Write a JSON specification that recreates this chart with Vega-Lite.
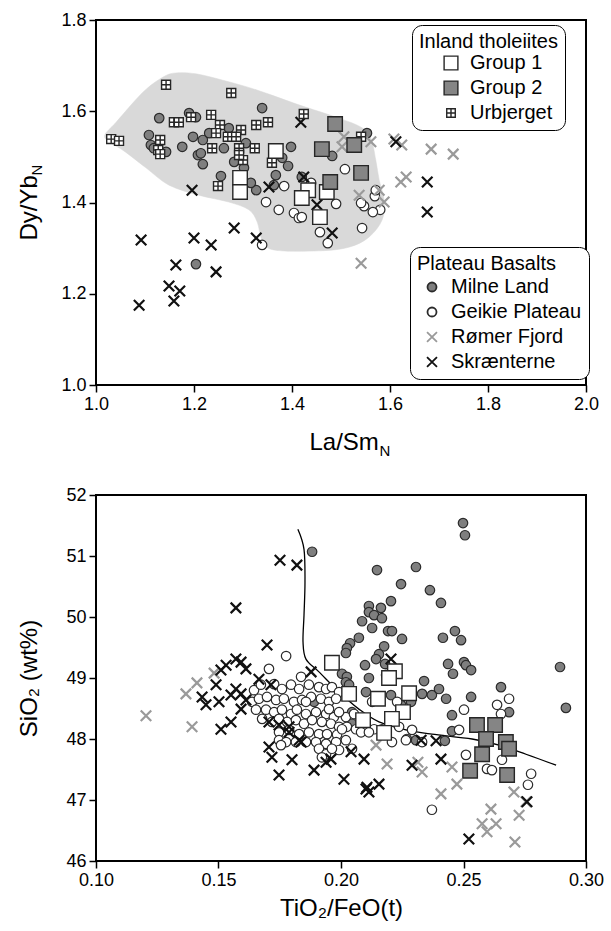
{
"$schema": "https://vega.github.io/schema/vega-lite/v6.json",
"background": "white",
"padding": {"left": 16, "top": 10, "right": 5, "bottom": 5},
"spacing": 26,
"datasets": {
"hull": [
{"i":0,"x":1.210,"y":1.416},{"i":1,"x":1.271,"y":1.401},{"i":2,"x":1.312,"y":1.384},{"i":3,"x":1.329,"y":1.357},{"i":4,"x":1.339,"y":1.318},{"i":5,"x":1.363,"y":1.296},{"i":6,"x":1.455,"y":1.294},{"i":7,"x":1.516,"y":1.302},{"i":8,"x":1.557,"y":1.324},{"i":9,"x":1.584,"y":1.362},{"i":10,"x":1.588,"y":1.405},{"i":11,"x":1.578,"y":1.449},{"i":12,"x":1.571,"y":1.493},{"i":13,"x":1.561,"y":1.541},{"i":14,"x":1.541,"y":1.565},{"i":15,"x":1.490,"y":1.587},{"i":16,"x":1.414,"y":1.614},{"i":17,"x":1.327,"y":1.647},{"i":18,"x":1.259,"y":1.668},{"i":19,"x":1.204,"y":1.682},{"i":20,"x":1.163,"y":1.684},{"i":21,"x":1.137,"y":1.675},{"i":22,"x":1.096,"y":1.642},{"i":23,"x":1.041,"y":1.576},{"i":24,"x":1.018,"y":1.548},{"i":25,"x":1.027,"y":1.533},{"i":26,"x":1.057,"y":1.513},{"i":27,"x":1.102,"y":1.476},{"i":28,"x":1.149,"y":1.438}
],
"topCircles": [
{"x":1.129,"y":1.585,"group":"Milne Land"},{"x":1.190,"y":1.596,"group":"Milne Land"},{"x":1.204,"y":1.587,"group":"Milne Land"},{"x":1.108,"y":1.548,"group":"Milne Land"},{"x":1.112,"y":1.526,"group":"Milne Land"},{"x":1.118,"y":1.519,"group":"Milne Land"},{"x":1.143,"y":1.511,"group":"Milne Land"},{"x":1.176,"y":1.522,"group":"Milne Land"},{"x":1.198,"y":1.544,"group":"Milne Land"},{"x":1.218,"y":1.537,"group":"Milne Land"},{"x":1.208,"y":1.504,"group":"Milne Land"},{"x":1.214,"y":1.508,"group":"Milne Land"},{"x":1.218,"y":1.484,"group":"Milne Land"},{"x":1.231,"y":1.552,"group":"Milne Land"},{"x":1.261,"y":1.519,"group":"Milne Land"},{"x":1.271,"y":1.563,"group":"Milne Land"},{"x":1.282,"y":1.489,"group":"Milne Land"},{"x":1.306,"y":1.530,"group":"Milne Land"},{"x":1.255,"y":1.458,"group":"Milne Land"},{"x":1.302,"y":1.476,"group":"Milne Land"},{"x":1.339,"y":1.607,"group":"Milne Land"},{"x":1.398,"y":1.522,"group":"Milne Land"},{"x":1.392,"y":1.480,"group":"Milne Land"},{"x":1.367,"y":1.460,"group":"Milne Land"},{"x":1.482,"y":1.502,"group":"Milne Land"},{"x":1.553,"y":1.552,"group":"Milne Land"},{"x":1.420,"y":1.456,"group":"Milne Land"},{"x":1.327,"y":1.427,"group":"Milne Land"},{"x":1.316,"y":1.443,"group":"Milne Land"},{"x":1.380,"y":1.498,"group":"Milne Land"},{"x":1.204,"y":1.265,"group":"Milne Land"},{"x":1.363,"y":1.438,"group":"Milne Land"},
{"x":1.347,"y":1.401,"group":"Geikie Plateau"},{"x":1.373,"y":1.384,"group":"Geikie Plateau"},{"x":1.404,"y":1.377,"group":"Geikie Plateau"},{"x":1.414,"y":1.366,"group":"Geikie Plateau"},{"x":1.439,"y":1.443,"group":"Geikie Plateau"},{"x":1.508,"y":1.473,"group":"Geikie Plateau"},{"x":1.384,"y":1.436,"group":"Geikie Plateau"},{"x":1.490,"y":1.397,"group":"Geikie Plateau"},{"x":1.569,"y":1.414,"group":"Geikie Plateau"},{"x":1.547,"y":1.392,"group":"Geikie Plateau"},{"x":1.571,"y":1.427,"group":"Geikie Plateau"},{"x":1.580,"y":1.384,"group":"Geikie Plateau"},{"x":1.565,"y":1.379,"group":"Geikie Plateau"},{"x":1.541,"y":1.399,"group":"Geikie Plateau"},{"x":1.543,"y":1.344,"group":"Geikie Plateau"},{"x":1.457,"y":1.335,"group":"Geikie Plateau"},{"x":1.473,"y":1.311,"group":"Geikie Plateau"},{"x":1.420,"y":1.368,"group":"Geikie Plateau"},{"x":1.339,"y":1.307,"group":"Geikie Plateau"}
],
"topCrosses": [
{"x":1.506,"y":1.544,"group":"Rømer Fjord"},{"x":1.502,"y":1.522,"group":"Rømer Fjord"},{"x":1.561,"y":1.533,"group":"Rømer Fjord"},{"x":1.608,"y":1.539,"group":"Rømer Fjord"},{"x":1.624,"y":1.526,"group":"Rømer Fjord"},{"x":1.684,"y":1.517,"group":"Rømer Fjord"},{"x":1.729,"y":1.506,"group":"Rømer Fjord"},{"x":1.622,"y":1.445,"group":"Rømer Fjord"},{"x":1.633,"y":1.456,"group":"Rømer Fjord"},{"x":1.537,"y":1.416,"group":"Rømer Fjord"},{"x":1.578,"y":1.427,"group":"Rømer Fjord"},{"x":1.588,"y":1.401,"group":"Rømer Fjord"},{"x":1.541,"y":1.267,"group":"Rømer Fjord"},
{"x":1.092,"y":1.318,"group":"Skrænterne"},{"x":1.200,"y":1.322,"group":"Skrænterne"},{"x":1.235,"y":1.307,"group":"Skrænterne"},{"x":1.282,"y":1.344,"group":"Skrænterne"},{"x":1.327,"y":1.322,"group":"Skrænterne"},{"x":1.163,"y":1.263,"group":"Skrænterne"},{"x":1.245,"y":1.248,"group":"Skrænterne"},{"x":1.149,"y":1.217,"group":"Skrænterne"},{"x":1.171,"y":1.206,"group":"Skrænterne"},{"x":1.159,"y":1.184,"group":"Skrænterne"},{"x":1.088,"y":1.175,"group":"Skrænterne"},{"x":1.196,"y":1.427,"group":"Skrænterne"},{"x":1.418,"y":1.576,"group":"Skrænterne"},{"x":1.353,"y":1.434,"group":"Skrænterne"},{"x":1.451,"y":1.395,"group":"Skrænterne"},{"x":1.424,"y":1.456,"group":"Skrænterne"},{"x":1.612,"y":1.533,"group":"Skrænterne"},{"x":1.676,"y":1.445,"group":"Skrænterne"},{"x":1.676,"y":1.379,"group":"Skrænterne"},{"x":1.482,"y":1.333,"group":"Skrænterne"}
],
"topInland": [
{"x":1.143,"y":1.658,"group":"Urbjerget"},{"x":1.276,"y":1.640,"group":"Urbjerget"},{"x":1.031,"y":1.539,"group":"Urbjerget"},{"x":1.047,"y":1.535,"group":"Urbjerget"},{"x":1.159,"y":1.576,"group":"Urbjerget"},{"x":1.169,"y":1.576,"group":"Urbjerget"},{"x":1.194,"y":1.587,"group":"Urbjerget"},{"x":1.235,"y":1.592,"group":"Urbjerget"},{"x":1.131,"y":1.537,"group":"Urbjerget"},{"x":1.127,"y":1.515,"group":"Urbjerget"},{"x":1.131,"y":1.506,"group":"Urbjerget"},{"x":1.253,"y":1.570,"group":"Urbjerget"},{"x":1.245,"y":1.552,"group":"Urbjerget"},{"x":1.269,"y":1.544,"group":"Urbjerget"},{"x":1.296,"y":1.559,"group":"Urbjerget"},{"x":1.286,"y":1.544,"group":"Urbjerget"},{"x":1.237,"y":1.519,"group":"Urbjerget"},{"x":1.292,"y":1.519,"group":"Urbjerget"},{"x":1.300,"y":1.493,"group":"Urbjerget"},{"x":1.292,"y":1.504,"group":"Urbjerget"},{"x":1.249,"y":1.436,"group":"Urbjerget"},{"x":1.327,"y":1.570,"group":"Urbjerget"},{"x":1.424,"y":1.594,"group":"Urbjerget"},{"x":1.351,"y":1.576,"group":"Urbjerget"},{"x":1.324,"y":1.519,"group":"Urbjerget"},{"x":1.359,"y":1.487,"group":"Urbjerget"},{"x":1.541,"y":1.544,"group":"Urbjerget"},
{"x":1.367,"y":1.513,"group":"Group 1"},{"x":1.433,"y":1.427,"group":"Group 1"},{"x":1.471,"y":1.423,"group":"Group 1"},{"x":1.420,"y":1.410,"group":"Group 1"},{"x":1.294,"y":1.454,"group":"Group 1"},{"x":1.294,"y":1.423,"group":"Group 1"},{"x":1.457,"y":1.368,"group":"Group 1"},
{"x":1.488,"y":1.572,"group":"Group 2"},{"x":1.461,"y":1.517,"group":"Group 2"},{"x":1.527,"y":1.526,"group":"Group 2"},{"x":1.541,"y":1.465,"group":"Group 2"},{"x":1.478,"y":1.445,"group":"Group 2"}
],
"curve": [
{"i":0,"x":0.1824,"y":51.44},{"i":1,"x":0.1849,"y":51.11},{"i":2,"x":0.1853,"y":50.57},{"i":3,"x":0.1849,"y":50.03},{"i":4,"x":0.1845,"y":49.59},{"i":5,"x":0.1857,"y":49.31},{"i":6,"x":0.1910,"y":49.10},{"i":7,"x":0.1992,"y":48.77},{"i":8,"x":0.2073,"y":48.49},{"i":9,"x":0.2155,"y":48.28},{"i":10,"x":0.2265,"y":48.15},{"i":11,"x":0.2371,"y":48.08},{"i":12,"x":0.2535,"y":48.00},{"i":13,"x":0.2645,"y":47.90},{"i":14,"x":0.2755,"y":47.75},{"i":15,"x":0.2878,"y":47.57}
],
"botCircles": [
{"x":0.1882,"y":51.07,"group":"Milne Land"},{"x":0.2498,"y":51.54,"group":"Milne Land"},{"x":0.2506,"y":51.34,"group":"Milne Land"},{"x":0.2147,"y":50.77,"group":"Milne Land"},{"x":0.2306,"y":50.82,"group":"Milne Land"},{"x":0.2245,"y":50.54,"group":"Milne Land"},{"x":0.2363,"y":50.44,"group":"Milne Land"},{"x":0.2408,"y":50.23,"group":"Milne Land"},{"x":0.2204,"y":50.26,"group":"Milne Land"},{"x":0.2114,"y":50.18,"group":"Milne Land"},{"x":0.2163,"y":50.15,"group":"Milne Land"},{"x":0.2114,"y":50.08,"group":"Milne Land"},{"x":0.2135,"y":50.03,"group":"Milne Land"},{"x":0.2167,"y":49.98,"group":"Milne Land"},{"x":0.2086,"y":49.93,"group":"Milne Land"},{"x":0.2127,"y":49.82,"group":"Milne Land"},{"x":0.2192,"y":49.77,"group":"Milne Land"},{"x":0.2208,"y":49.77,"group":"Milne Land"},{"x":0.2249,"y":49.64,"group":"Milne Land"},{"x":0.2416,"y":49.66,"group":"Milne Land"},{"x":0.2465,"y":49.77,"group":"Milne Land"},{"x":0.2490,"y":49.62,"group":"Milne Land"},{"x":0.2073,"y":49.66,"group":"Milne Land"},{"x":0.2037,"y":49.57,"group":"Milne Land"},{"x":0.2024,"y":49.49,"group":"Milne Land"},{"x":0.2020,"y":49.41,"group":"Milne Land"},{"x":0.2176,"y":49.52,"group":"Milne Land"},{"x":0.2155,"y":49.39,"group":"Milne Land"},{"x":0.2143,"y":49.31,"group":"Milne Land"},{"x":0.2098,"y":49.21,"group":"Milne Land"},{"x":0.2437,"y":49.23,"group":"Milne Land"},{"x":0.2502,"y":49.26,"group":"Milne Land"},{"x":0.2510,"y":49.21,"group":"Milne Land"},{"x":0.2531,"y":49.13,"group":"Milne Land"},{"x":0.2457,"y":49.07,"group":"Milne Land"},{"x":0.2180,"y":49.23,"group":"Milne Land"},{"x":0.2004,"y":49.07,"group":"Milne Land"},{"x":0.2024,"y":49.02,"group":"Milne Land"},{"x":0.2114,"y":49.00,"group":"Milne Land"},{"x":0.2339,"y":48.95,"group":"Milne Land"},{"x":0.2020,"y":48.93,"group":"Milne Land"},{"x":0.2184,"y":49.05,"group":"Milne Land"},{"x":0.2204,"y":48.72,"group":"Milne Land"},{"x":0.2245,"y":48.56,"group":"Milne Land"},{"x":0.2331,"y":48.74,"group":"Milne Land"},{"x":0.2371,"y":48.72,"group":"Milne Land"},{"x":0.2400,"y":48.82,"group":"Milne Land"},{"x":0.2429,"y":48.66,"group":"Milne Land"},{"x":0.2531,"y":48.69,"group":"Milne Land"},{"x":0.2653,"y":48.85,"group":"Milne Land"},{"x":0.2686,"y":48.44,"group":"Milne Land"},{"x":0.2453,"y":48.39,"group":"Milne Land"},{"x":0.2453,"y":48.13,"group":"Milne Land"},{"x":0.2424,"y":47.97,"group":"Milne Land"},{"x":0.2306,"y":47.98,"group":"Milne Land"},{"x":0.2269,"y":48.00,"group":"Milne Land"},{"x":0.2102,"y":48.77,"group":"Milne Land"},{"x":0.2045,"y":48.44,"group":"Milne Land"},{"x":0.2045,"y":48.25,"group":"Milne Land"},{"x":0.2033,"y":48.89,"group":"Milne Land"},{"x":0.2286,"y":48.61,"group":"Milne Land"},{"x":0.1890,"y":48.61,"group":"Milne Land"},{"x":0.2894,"y":49.18,"group":"Milne Land"},{"x":0.2918,"y":48.51,"group":"Milne Land"},
{"x":0.1776,"y":49.36,"group":"Geikie Plateau"},{"x":0.1706,"y":49.15,"group":"Geikie Plateau"},{"x":0.1837,"y":49.02,"group":"Geikie Plateau"},{"x":0.1645,"y":48.80,"group":"Geikie Plateau"},{"x":0.1673,"y":48.89,"group":"Geikie Plateau"},{"x":0.1727,"y":48.90,"group":"Geikie Plateau"},{"x":0.1759,"y":48.82,"group":"Geikie Plateau"},{"x":0.1796,"y":48.89,"group":"Geikie Plateau"},{"x":0.1829,"y":48.82,"group":"Geikie Plateau"},{"x":0.1869,"y":48.89,"group":"Geikie Plateau"},{"x":0.1910,"y":48.85,"group":"Geikie Plateau"},{"x":0.1939,"y":48.82,"group":"Geikie Plateau"},{"x":0.1963,"y":48.85,"group":"Geikie Plateau"},{"x":0.1992,"y":48.77,"group":"Geikie Plateau"},{"x":0.1637,"y":48.61,"group":"Geikie Plateau"},{"x":0.1665,"y":48.66,"group":"Geikie Plateau"},{"x":0.1698,"y":48.69,"group":"Geikie Plateau"},{"x":0.1735,"y":48.64,"group":"Geikie Plateau"},{"x":0.1767,"y":48.66,"group":"Geikie Plateau"},{"x":0.1808,"y":48.61,"group":"Geikie Plateau"},{"x":0.1841,"y":48.64,"group":"Geikie Plateau"},{"x":0.1878,"y":48.69,"group":"Geikie Plateau"},{"x":0.1918,"y":48.66,"group":"Geikie Plateau"},{"x":0.1951,"y":48.61,"group":"Geikie Plateau"},{"x":0.1980,"y":48.66,"group":"Geikie Plateau"},{"x":0.1653,"y":48.48,"group":"Geikie Plateau"},{"x":0.1694,"y":48.48,"group":"Geikie Plateau"},{"x":0.1727,"y":48.44,"group":"Geikie Plateau"},{"x":0.1759,"y":48.48,"group":"Geikie Plateau"},{"x":0.1796,"y":48.41,"group":"Geikie Plateau"},{"x":0.1820,"y":48.48,"group":"Geikie Plateau"},{"x":0.1857,"y":48.41,"group":"Geikie Plateau"},{"x":0.1898,"y":48.44,"group":"Geikie Plateau"},{"x":0.1939,"y":48.41,"group":"Geikie Plateau"},{"x":0.1971,"y":48.36,"group":"Geikie Plateau"},{"x":0.2020,"y":48.36,"group":"Geikie Plateau"},{"x":0.2053,"y":48.41,"group":"Geikie Plateau"},{"x":0.1678,"y":48.33,"group":"Geikie Plateau"},{"x":0.1718,"y":48.28,"group":"Geikie Plateau"},{"x":0.1747,"y":48.33,"group":"Geikie Plateau"},{"x":0.1780,"y":48.28,"group":"Geikie Plateau"},{"x":0.1816,"y":48.31,"group":"Geikie Plateau"},{"x":0.1849,"y":48.25,"group":"Geikie Plateau"},{"x":0.1882,"y":48.31,"group":"Geikie Plateau"},{"x":0.1922,"y":48.28,"group":"Geikie Plateau"},{"x":0.1959,"y":48.25,"group":"Geikie Plateau"},{"x":0.1992,"y":48.20,"group":"Geikie Plateau"},{"x":0.2024,"y":48.20,"group":"Geikie Plateau"},{"x":0.2061,"y":48.16,"group":"Geikie Plateau"},{"x":0.2102,"y":48.15,"group":"Geikie Plateau"},{"x":0.2135,"y":48.16,"group":"Geikie Plateau"},{"x":0.1747,"y":48.11,"group":"Geikie Plateau"},{"x":0.1788,"y":48.15,"group":"Geikie Plateau"},{"x":0.1829,"y":48.08,"group":"Geikie Plateau"},{"x":0.1869,"y":48.11,"group":"Geikie Plateau"},{"x":0.1910,"y":48.08,"group":"Geikie Plateau"},{"x":0.1943,"y":48.08,"group":"Geikie Plateau"},{"x":0.1984,"y":48.07,"group":"Geikie Plateau"},{"x":0.1747,"y":47.98,"group":"Geikie Plateau"},{"x":0.1776,"y":47.95,"group":"Geikie Plateau"},{"x":0.1857,"y":47.95,"group":"Geikie Plateau"},{"x":0.1898,"y":47.95,"group":"Geikie Plateau"},{"x":0.1939,"y":47.92,"group":"Geikie Plateau"},{"x":0.1980,"y":47.95,"group":"Geikie Plateau"},{"x":0.2020,"y":47.98,"group":"Geikie Plateau"},{"x":0.1755,"y":47.90,"group":"Geikie Plateau"},{"x":0.1910,"y":47.84,"group":"Geikie Plateau"},{"x":0.1939,"y":47.75,"group":"Geikie Plateau"},{"x":0.2045,"y":47.84,"group":"Geikie Plateau"},{"x":0.1922,"y":47.70,"group":"Geikie Plateau"},{"x":0.1992,"y":47.82,"group":"Geikie Plateau"},{"x":0.1816,"y":47.95,"group":"Geikie Plateau"},{"x":0.1857,"y":48.61,"group":"Geikie Plateau"},{"x":0.1951,"y":48.49,"group":"Geikie Plateau"},{"x":0.2082,"y":48.11,"group":"Geikie Plateau"},{"x":0.2114,"y":48.11,"group":"Geikie Plateau"},{"x":0.2004,"y":48.16,"group":"Geikie Plateau"},{"x":0.1963,"y":47.84,"group":"Geikie Plateau"},{"x":0.2167,"y":48.16,"group":"Geikie Plateau"},{"x":0.2237,"y":48.20,"group":"Geikie Plateau"},{"x":0.2265,"y":47.98,"group":"Geikie Plateau"},{"x":0.2290,"y":48.15,"group":"Geikie Plateau"},{"x":0.2208,"y":47.95,"group":"Geikie Plateau"},{"x":0.2331,"y":47.95,"group":"Geikie Plateau"},{"x":0.2502,"y":48.48,"group":"Geikie Plateau"},{"x":0.2482,"y":48.15,"group":"Geikie Plateau"},{"x":0.2510,"y":47.74,"group":"Geikie Plateau"},{"x":0.2637,"y":48.56,"group":"Geikie Plateau"},{"x":0.2653,"y":48.41,"group":"Geikie Plateau"},{"x":0.2686,"y":48.66,"group":"Geikie Plateau"},{"x":0.2596,"y":47.51,"group":"Geikie Plateau"},{"x":0.2616,"y":47.49,"group":"Geikie Plateau"},{"x":0.2657,"y":47.66,"group":"Geikie Plateau"},{"x":0.2776,"y":47.43,"group":"Geikie Plateau"},{"x":0.2763,"y":47.25,"group":"Geikie Plateau"},{"x":0.2371,"y":46.84,"group":"Geikie Plateau"},{"x":0.1992,"y":48.44,"group":"Geikie Plateau"},{"x":0.2127,"y":48.61,"group":"Geikie Plateau"},{"x":0.2229,"y":48.61,"group":"Geikie Plateau"}
],
"botCrosses": [
{"x":0.1204,"y":48.38,"group":"Rømer Fjord"},{"x":0.1392,"y":48.20,"group":"Rømer Fjord"},{"x":0.1367,"y":48.74,"group":"Rømer Fjord"},{"x":0.1412,"y":48.92,"group":"Rømer Fjord"},{"x":0.1482,"y":49.08,"group":"Rømer Fjord"},{"x":0.2143,"y":47.90,"group":"Rømer Fjord"},{"x":0.2188,"y":47.59,"group":"Rømer Fjord"},{"x":0.2314,"y":47.62,"group":"Rømer Fjord"},{"x":0.2331,"y":47.46,"group":"Rømer Fjord"},{"x":0.2453,"y":47.54,"group":"Rømer Fjord"},{"x":0.2473,"y":47.26,"group":"Rømer Fjord"},{"x":0.2408,"y":47.10,"group":"Rømer Fjord"},{"x":0.2612,"y":46.85,"group":"Rømer Fjord"},{"x":0.2576,"y":46.61,"group":"Rømer Fjord"},{"x":0.2633,"y":46.61,"group":"Rømer Fjord"},{"x":0.2596,"y":46.48,"group":"Rømer Fjord"},{"x":0.2706,"y":47.13,"group":"Rømer Fjord"},{"x":0.2755,"y":46.97,"group":"Rømer Fjord"},{"x":0.2727,"y":46.75,"group":"Rømer Fjord"},{"x":0.2710,"y":46.31,"group":"Rømer Fjord"},
{"x":0.1751,"y":50.93,"group":"Skrænterne"},{"x":0.1820,"y":50.85,"group":"Skrænterne"},{"x":0.1571,"y":50.15,"group":"Skrænterne"},{"x":0.1698,"y":49.54,"group":"Skrænterne"},{"x":0.1571,"y":49.31,"group":"Skrænterne"},{"x":0.1592,"y":49.26,"group":"Skrænterne"},{"x":0.1531,"y":49.21,"group":"Skrænterne"},{"x":0.1510,"y":49.13,"group":"Skrænterne"},{"x":0.1612,"y":49.15,"group":"Skrænterne"},{"x":0.1490,"y":48.89,"group":"Skrænterne"},{"x":0.1433,"y":48.69,"group":"Skrænterne"},{"x":0.1449,"y":48.56,"group":"Skrænterne"},{"x":0.1502,"y":48.61,"group":"Skrænterne"},{"x":0.1551,"y":48.72,"group":"Skrænterne"},{"x":0.1592,"y":48.74,"group":"Skrænterne"},{"x":0.1571,"y":48.82,"group":"Skrænterne"},{"x":0.1612,"y":48.64,"group":"Skrænterne"},{"x":0.1665,"y":48.98,"group":"Skrænterne"},{"x":0.1714,"y":48.89,"group":"Skrænterne"},{"x":0.1592,"y":48.49,"group":"Skrænterne"},{"x":0.1551,"y":48.28,"group":"Skrænterne"},{"x":0.1510,"y":48.16,"group":"Skrænterne"},{"x":0.1788,"y":48.20,"group":"Skrænterne"},{"x":0.1747,"y":48.23,"group":"Skrænterne"},{"x":0.1829,"y":47.98,"group":"Skrænterne"},{"x":0.1706,"y":47.87,"group":"Skrænterne"},{"x":0.1718,"y":47.70,"group":"Skrænterne"},{"x":0.1800,"y":47.66,"group":"Skrænterne"},{"x":0.1747,"y":47.41,"group":"Skrænterne"},{"x":0.1890,"y":47.49,"group":"Skrænterne"},{"x":0.1939,"y":47.62,"group":"Skrænterne"},{"x":0.2012,"y":47.34,"group":"Skrænterne"},{"x":0.2041,"y":47.79,"group":"Skrænterne"},{"x":0.2094,"y":47.67,"group":"Skrænterne"},{"x":0.2106,"y":47.21,"group":"Skrænterne"},{"x":0.1959,"y":47.67,"group":"Skrænterne"},{"x":0.2102,"y":47.18,"group":"Skrænterne"},{"x":0.2114,"y":47.13,"group":"Skrænterne"},{"x":0.2155,"y":47.26,"group":"Skrænterne"},{"x":0.2290,"y":47.57,"group":"Skrænterne"},{"x":0.2408,"y":47.67,"group":"Skrænterne"},{"x":0.2327,"y":47.98,"group":"Skrænterne"},{"x":0.2388,"y":47.97,"group":"Skrænterne"},{"x":0.2204,"y":49.31,"group":"Skrænterne"},{"x":0.2522,"y":46.36,"group":"Skrænterne"},{"x":0.2759,"y":46.97,"group":"Skrænterne"},{"x":0.1706,"y":48.28,"group":"Skrænterne"},{"x":0.1788,"y":48.11,"group":"Skrænterne"},{"x":0.1837,"y":47.95,"group":"Skrænterne"},{"x":0.1878,"y":49.10,"group":"Skrænterne"}
],
"botInland": [
{"x":0.1963,"y":49.25,"group":"Group 1"},{"x":0.2220,"y":49.11,"group":"Group 1"},{"x":0.2196,"y":49.00,"group":"Group 1"},{"x":0.2033,"y":48.74,"group":"Group 1"},{"x":0.2151,"y":48.66,"group":"Group 1"},{"x":0.2278,"y":48.75,"group":"Group 1"},{"x":0.2253,"y":48.44,"group":"Group 1"},{"x":0.2090,"y":48.31,"group":"Group 1"},{"x":0.2208,"y":48.33,"group":"Group 1"},{"x":0.2176,"y":48.10,"group":"Group 1"},
{"x":0.2555,"y":48.23,"group":"Group 2"},{"x":0.2629,"y":48.23,"group":"Group 2"},{"x":0.2592,"y":48.00,"group":"Group 2"},{"x":0.2673,"y":47.95,"group":"Group 2"},{"x":0.2686,"y":47.84,"group":"Group 2"},{"x":0.2576,"y":47.75,"group":"Group 2"},{"x":0.2527,"y":47.48,"group":"Group 2"},{"x":0.2678,"y":47.41,"group":"Group 2"}
]
},
"vconcat": [
{
"width": 490, "height": 365,
"resolve": {"scale": {"shape": "independent", "fill": "independent", "stroke": "independent"}, "axis": {"x": "independent", "y": "independent"}},
"layer": [
{
"data": {"name": "hull"},
"mark": {"type": "line", "interpolate": "cardinal-closed", "fill": "#d9d9d9", "stroke": "#d9d9d9", "strokeWidth": 0.5},
"encoding": {
"x": {"field": "x", "type": "quantitative", "scale": {"domain": [1, 2], "nice": false, "zero": false}, "axis": {"values": [1, 1.2, 1.4, 1.6, 1.8, 2], "format": ".1f", "title": "La/Sm", "titleX": 213, "titleY": 64, "titleAlign": "left", "titleBaseline": "alphabetic"}},
"y": {"field": "y", "type": "quantitative", "scale": {"domain": [1, 1.8], "nice": false, "zero": false}, "axis": {"values": [1, 1.2, 1.4, 1.6, 1.8], "format": ".1f", "title": "Dy/Yb", "titleX": -60, "titleY": 220, "titleAlign": "left", "titleBaseline": "alphabetic", "titleAngle": 270}},
"order": {"field": "i", "type": "quantitative"}
}
},
{
"layer": [
{
"data": {"name": "topCircles"},
"mark": {"type": "point", "size": 100, "strokeWidth": 1.2, "opacity": 1},
"encoding": {
"x": {"field": "x", "type": "quantitative", "scale": {"domain": [1, 2], "nice": false, "zero": false}, "axis": {"orient": "top", "title": "(a)", "labels": false, "ticks": false, "domain": false, "titleX": 9, "titleY": 37, "titleAlign": "left", "titleBaseline": "alphabetic", "titleFontSize": 26}},
"y": {"field": "y", "type": "quantitative", "scale": {"domain": [1, 1.8], "nice": false, "zero": false}, "axis": null},
"shape": {"field": "group", "type": "nominal", "scale": {"domain": ["Milne Land", "Geikie Plateau", "Rømer Fjord", "Skrænterne"], "range": ["M-0.95,0A0.95,0.95,0,1,1,0.95,0A0.95,0.95,0,1,1,-0.95,0Z", "M-0.95,0A0.95,0.95,0,1,1,0.95,0A0.95,0.95,0,1,1,-0.95,0Z", "M-1.05,-1.05L1.05,1.05M-1.05,1.05L1.05,-1.05", "M-1.05,-1.05L1.05,1.05M-1.05,1.05L1.05,-1.05"]}, "legend": {"title": "Plateau Basalts", "orient": "none", "legendX": 314, "legendY": 227, "padding": 7, "cornerRadius": 10, "strokeColor": "#000000", "fillColor": "#ffffff", "titleFontSize": 20, "titleFontWeight": "normal", "titleColor": "#000000", "titlePadding": 3, "labelFontSize": 20, "labelColor": "#000000", "rowPadding": 5, "symbolOffset": 5, "labelOffset": 9, "symbolSize": 90, "symbolStrokeWidth": 1.8}},
"fill": {"field": "group", "type": "nominal", "scale": {"domain": ["Milne Land", "Geikie Plateau", "Rømer Fjord", "Skrænterne"], "range": ["#7f7f7f", "#ffffff", "transparent", "transparent"]}, "legend": {"title": "Plateau Basalts"}},
"stroke": {"field": "group", "type": "nominal", "scale": {"domain": ["Milne Land", "Geikie Plateau", "Rømer Fjord", "Skrænterne"], "range": ["#2b2b2b", "#2b2b2b", "#9a9a9a", "#111111"]}, "legend": {"title": "Plateau Basalts"}}
}
},
{
"data": {"name": "topCrosses"},
"mark": {"type": "point", "size": 100, "strokeWidth": 2.2, "opacity": 1},
"encoding": {
"x": {"field": "x", "type": "quantitative", "scale": {"domain": [1, 2], "nice": false, "zero": false}, "axis": null},
"y": {"field": "y", "type": "quantitative", "scale": {"domain": [1, 1.8], "nice": false, "zero": false}, "axis": null},
"shape": {"field": "group", "type": "nominal", "scale": {"domain": ["Milne Land", "Geikie Plateau", "Rømer Fjord", "Skrænterne"], "range": ["M-0.95,0A0.95,0.95,0,1,1,0.95,0A0.95,0.95,0,1,1,-0.95,0Z", "M-0.95,0A0.95,0.95,0,1,1,0.95,0A0.95,0.95,0,1,1,-0.95,0Z", "M-1.05,-1.05L1.05,1.05M-1.05,1.05L1.05,-1.05", "M-1.05,-1.05L1.05,1.05M-1.05,1.05L1.05,-1.05"]}, "legend": {"title": "Plateau Basalts"}},
"fill": {"field": "group", "type": "nominal", "scale": {"domain": ["Milne Land", "Geikie Plateau", "Rømer Fjord", "Skrænterne"], "range": ["#7f7f7f", "#ffffff", "transparent", "transparent"]}, "legend": {"title": "Plateau Basalts"}},
"stroke": {"field": "group", "type": "nominal", "scale": {"domain": ["Milne Land", "Geikie Plateau", "Rømer Fjord", "Skrænterne"], "range": ["#2b2b2b", "#2b2b2b", "#9a9a9a", "#111111"]}, "legend": {"title": "Plateau Basalts"}}
}
}
]
},
{
"data": {"name": "topInland"},
"mark": {"type": "point", "size": 210, "strokeWidth": 1.4, "opacity": 1},
"encoding": {
"x": {"field": "x", "type": "quantitative", "scale": {"domain": [1, 2], "nice": false, "zero": false}, "axis": {"orient": "bottom", "title": "N", "labels": false, "ticks": false, "domain": false, "titleX": 283, "titleY": 70, "titleAlign": "left", "titleBaseline": "alphabetic", "titleFontSize": 15}},
"y": {"field": "y", "type": "quantitative", "scale": {"domain": [1, 1.8], "nice": false, "zero": false}, "axis": {"orient": "left", "title": "N", "labels": false, "ticks": false, "domain": false, "titleX": -55, "titleY": 155, "titleAlign": "left", "titleBaseline": "alphabetic", "titleFontSize": 15, "titleAngle": 270}},
"shape": {"field": "group", "type": "nominal", "scale": {"domain": ["Group 1", "Group 2", "Urbjerget"], "range": ["square", "square", "M-0.62,-0.62H0.62V0.62H-0.62Z M0,-0.62V0.62 M-0.62,0H0.62"]}, "legend": {"title": "Inland tholeiites", "orient": "none", "legendX": 316, "legendY": 5, "padding": 7, "cornerRadius": 10, "strokeColor": "#000000", "fillColor": "#ffffff", "titleFontSize": 20, "titleFontWeight": "normal", "titleColor": "#000000", "titlePadding": 1, "labelFontSize": 20, "labelColor": "#000000", "rowPadding": 5, "symbolOffset": 22, "labelOffset": 9, "symbolSize": 190, "symbolStrokeWidth": 1.4}},
"fill": {"field": "group", "type": "nominal", "scale": {"domain": ["Group 1", "Group 2", "Urbjerget"], "range": ["#ffffff", "#858585", "#ffffff"]}, "legend": {"title": "Inland tholeiites"}},
"stroke": {"field": "group", "type": "nominal", "scale": {"domain": ["Group 1", "Group 2", "Urbjerget"], "range": ["#262626", "#262626", "#262626"]}, "legend": {"title": "Inland tholeiites"}}
}
}
]
},
{
"width": 490, "height": 366,
"resolve": {"scale": {"shape": "independent", "fill": "independent", "stroke": "independent"}, "axis": {"x": "independent", "y": "independent"}},
"layer": [
{
"data": {"name": "curve"},
"mark": {"type": "line", "interpolate": "cardinal", "stroke": "#000000", "strokeWidth": 1.3},
"encoding": {
"x": {"field": "x", "type": "quantitative", "scale": {"domain": [0.1, 0.3], "nice": false, "zero": false}, "axis": {"values": [0.1, 0.15, 0.2, 0.25, 0.3], "format": ".2f", "title": "TiO₂/FeO(t)", "titleX": 245, "titleY": 54, "titleAlign": "center", "titleBaseline": "alphabetic"}},
"y": {"field": "y", "type": "quantitative", "scale": {"domain": [46, 52], "nice": false, "zero": false}, "axis": {"values": [46, 47, 48, 49, 50, 51, 52], "format": "d", "title": "SiO₂ (wt%)", "titleX": -60, "titleY": 183, "titleAlign": "center", "titleBaseline": "alphabetic", "titleAngle": 270}},
"order": {"field": "i", "type": "quantitative"}
}
},
{
"layer": [
{
"data": {"name": "botCircles"},
"mark": {"type": "point", "size": 100, "strokeWidth": 1.2, "opacity": 1},
"encoding": {
"x": {"field": "x", "type": "quantitative", "scale": {"domain": [0.1, 0.3], "nice": false, "zero": false}, "axis": {"orient": "top", "title": "(b)", "labels": false, "ticks": false, "domain": false, "titleX": 9, "titleY": 39, "titleAlign": "left", "titleBaseline": "alphabetic", "titleFontSize": 26}},
"y": {"field": "y", "type": "quantitative", "scale": {"domain": [46, 52], "nice": false, "zero": false}, "axis": null},
"shape": {"field": "group", "type": "nominal", "scale": {"domain": ["Milne Land", "Geikie Plateau", "Rømer Fjord", "Skrænterne"], "range": ["M-0.95,0A0.95,0.95,0,1,1,0.95,0A0.95,0.95,0,1,1,-0.95,0Z", "M-0.95,0A0.95,0.95,0,1,1,0.95,0A0.95,0.95,0,1,1,-0.95,0Z", "M-1.05,-1.05L1.05,1.05M-1.05,1.05L1.05,-1.05", "M-1.05,-1.05L1.05,1.05M-1.05,1.05L1.05,-1.05"]}, "legend": null},
"fill": {"field": "group", "type": "nominal", "scale": {"domain": ["Milne Land", "Geikie Plateau", "Rømer Fjord", "Skrænterne"], "range": ["#7f7f7f", "#ffffff", "transparent", "transparent"]}, "legend": null},
"stroke": {"field": "group", "type": "nominal", "scale": {"domain": ["Milne Land", "Geikie Plateau", "Rømer Fjord", "Skrænterne"], "range": ["#2b2b2b", "#2b2b2b", "#9a9a9a", "#111111"]}, "legend": null}
}
},
{
"data": {"name": "botCrosses"},
"mark": {"type": "point", "size": 100, "strokeWidth": 2.2, "opacity": 1},
"encoding": {
"x": {"field": "x", "type": "quantitative", "scale": {"domain": [0.1, 0.3], "nice": false, "zero": false}, "axis": null},
"y": {"field": "y", "type": "quantitative", "scale": {"domain": [46, 52], "nice": false, "zero": false}, "axis": null},
"shape": {"field": "group", "type": "nominal", "scale": {"domain": ["Milne Land", "Geikie Plateau", "Rømer Fjord", "Skrænterne"], "range": ["M-0.95,0A0.95,0.95,0,1,1,0.95,0A0.95,0.95,0,1,1,-0.95,0Z", "M-0.95,0A0.95,0.95,0,1,1,0.95,0A0.95,0.95,0,1,1,-0.95,0Z", "M-1.05,-1.05L1.05,1.05M-1.05,1.05L1.05,-1.05", "M-1.05,-1.05L1.05,1.05M-1.05,1.05L1.05,-1.05"]}, "legend": null},
"fill": {"field": "group", "type": "nominal", "scale": {"domain": ["Milne Land", "Geikie Plateau", "Rømer Fjord", "Skrænterne"], "range": ["#7f7f7f", "#ffffff", "transparent", "transparent"]}, "legend": null},
"stroke": {"field": "group", "type": "nominal", "scale": {"domain": ["Milne Land", "Geikie Plateau", "Rømer Fjord", "Skrænterne"], "range": ["#2b2b2b", "#2b2b2b", "#9a9a9a", "#111111"]}, "legend": null}
}
}
]
},
{
"data": {"name": "botInland"},
"mark": {"type": "point", "size": 210, "strokeWidth": 1.4, "opacity": 1},
"encoding": {
"x": {"field": "x", "type": "quantitative", "scale": {"domain": [0.1, 0.3], "nice": false, "zero": false}, "axis": null},
"y": {"field": "y", "type": "quantitative", "scale": {"domain": [46, 52], "nice": false, "zero": false}, "axis": null},
"shape": {"field": "group", "type": "nominal", "scale": {"domain": ["Group 1", "Group 2", "Urbjerget"], "range": ["square", "square", "M-0.62,-0.62H0.62V0.62H-0.62Z M0,-0.62V0.62 M-0.62,0H0.62"]}, "legend": null},
"fill": {"field": "group", "type": "nominal", "scale": {"domain": ["Group 1", "Group 2", "Urbjerget"], "range": ["#ffffff", "#858585", "#ffffff"]}, "legend": null},
"stroke": {"field": "group", "type": "nominal", "scale": {"domain": ["Group 1", "Group 2", "Urbjerget"], "range": ["#262626", "#262626", "#262626"]}, "legend": null}
}
}
]
}
],
"resolve": {"scale": {"shape": "independent", "fill": "independent", "stroke": "independent"}},
"config": {
"font": "Liberation Sans",
"view": {"stroke": "#000000", "strokeWidth": 2},
"axis": {"grid": false, "domain": false, "ticks": true, "tickColor": "#000000", "tickWidth": 1.5, "tickSize": 7, "labelFont": "Liberation Sans", "labelFontSize": 18, "labelColor": "#000000", "labelPadding": 3, "labelFlush": false, "labelOverlap": false, "titleFont": "Liberation Sans", "titleFontSize": 24, "titleFontWeight": "normal", "titleColor": "#000000"},
"legend": {"labelFont": "Liberation Sans", "titleFont": "Liberation Sans"}
}
}
